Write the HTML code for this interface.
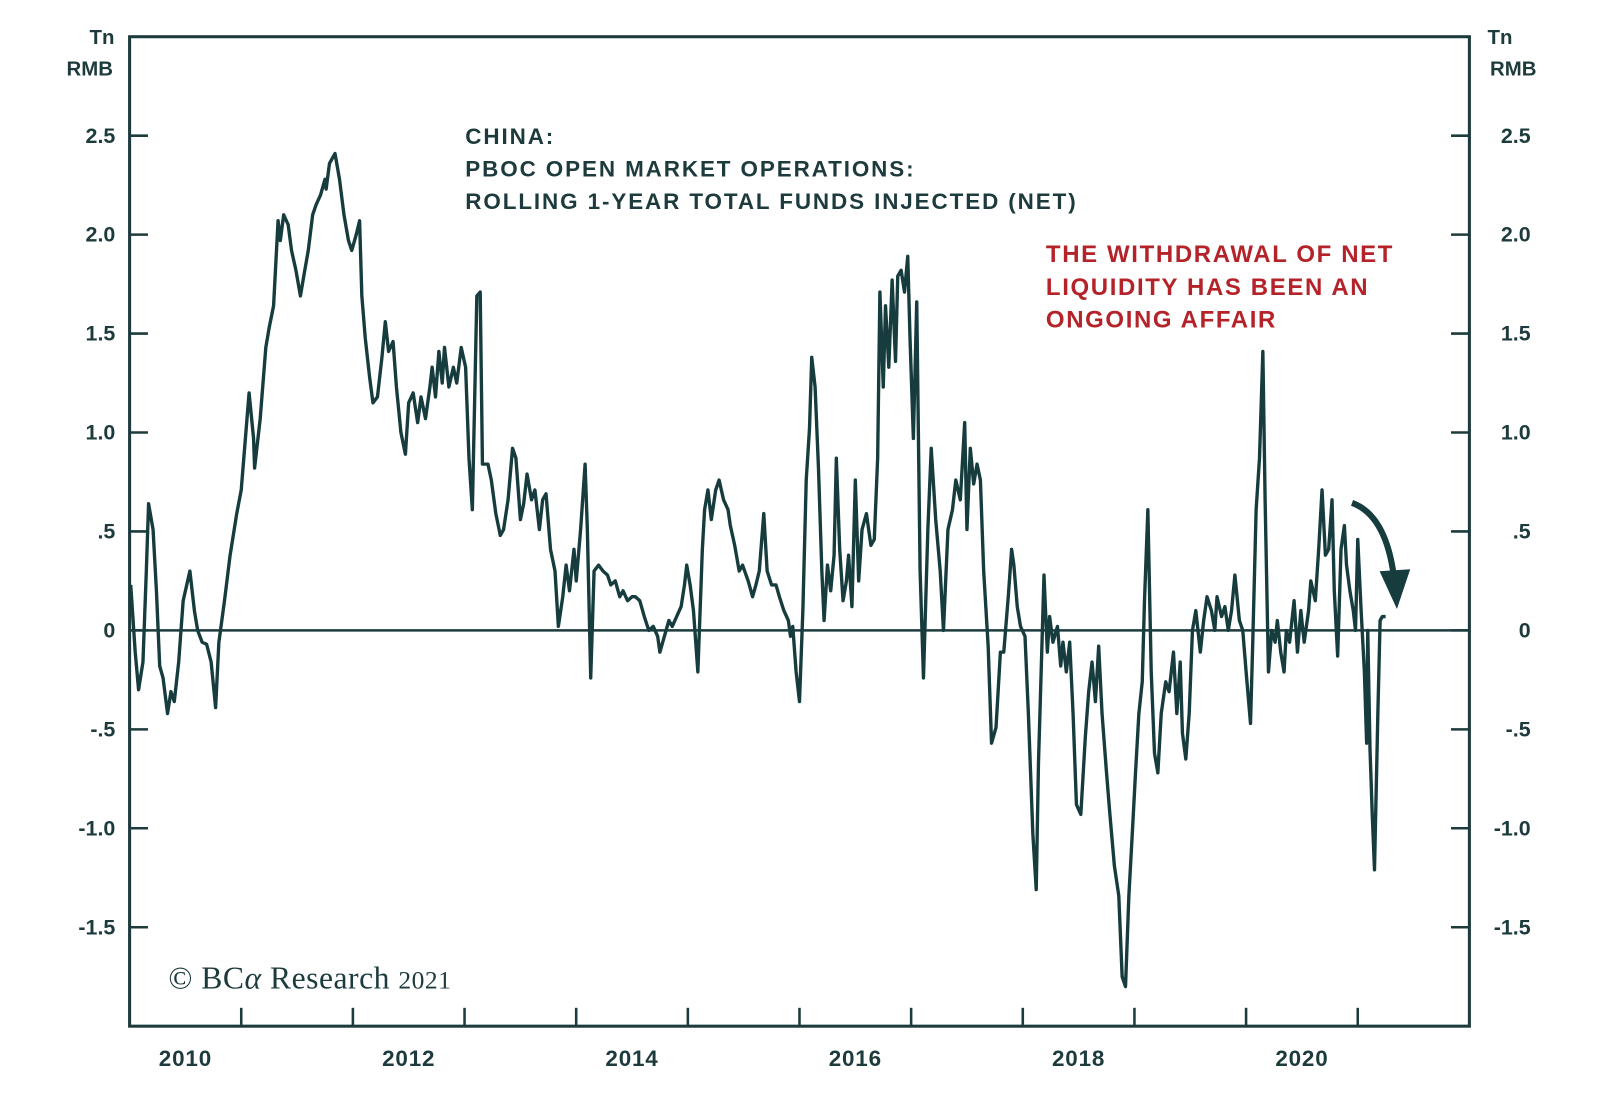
<!DOCTYPE html>
<html><head><meta charset="utf-8"><style>
html,body{margin:0;padding:0;background:#fff;}
svg{display:block;}
text{font-family:"Liberation Sans",Arial,sans-serif;}
</style></head><body>
<svg id="chart" width="1600" height="1119" viewBox="0 0 1568 1097" preserveAspectRatio="none" xmlns="http://www.w3.org/2000/svg">
<rect width="1568" height="1097" fill="#fff"/>
<g id="axes"></g>
<path id="series" fill="none" stroke="#163c3e" stroke-width="3.3" stroke-linejoin="round"/>
<text x="100" y="43" text-anchor="middle" font-size="20" font-weight="bold" fill="#1d3b3d">Tn</text>
<text x="88" y="74" text-anchor="middle" font-size="20" font-weight="bold" fill="#1d3b3d">RMB</text>
<text x="1470" y="43" text-anchor="middle" font-size="20" font-weight="bold" fill="#1d3b3d">Tn</text>
<text x="1483" y="74" text-anchor="middle" font-size="20" font-weight="bold" fill="#1d3b3d">RMB</text>
<g font-size="22" font-weight="bold" fill="#1d3b3d" letter-spacing="1.85">
<text x="456" y="141">CHINA:</text>
<text x="456" y="173">PBOC OPEN MARKET OPERATIONS:</text>
<text x="456" y="205">ROLLING 1-YEAR TOTAL FUNDS INJECTED (NET)</text>
</g>
<g font-size="23.5" font-weight="bold" fill="#b5232a" letter-spacing="1.6">
<text x="1025" y="257">THE WITHDRAWAL OF NET</text>
<text x="1025" y="289">LIQUIDITY HAS BEEN AN</text>
<text x="1025" y="321">ONGOING AFFAIR</text>
</g>
<g>
<path d="M1325,493 Q1358,505 1366,565" fill="none" stroke="#163c3e" stroke-width="6"/>
<polygon points="1352,560 1382,558 1369,597" fill="#163c3e"/>
</g>
<text x="165" y="969" style="font-family:'Liberation Serif',serif" font-size="31" letter-spacing="0.5" fill="#1d3b3d">© BC<tspan font-style="italic">α</tspan> Research <tspan font-size="25">2021</tspan></text>
</svg>
<script>
const years=[2010.01,2010.05,2010.08,2010.12,2010.15,2010.17,2010.21,2010.24,2010.27,2010.30,2010.34,2010.37,2010.40,2010.44,2010.48,2010.54,2010.58,2010.61,2010.65,2010.69,2010.73,2010.77,2010.80,2010.85,2010.90,2010.96,2011.00,
2011.03,2011.07,2011.11,2011.12,2011.17,2011.22,2011.25,2011.29,2011.33,2011.35,2011.38,2011.42,2011.45,2011.49,2011.53,2011.56,2011.60,2011.64,2011.67,2011.71,2011.75,2011.76,2011.79,2011.84,2011.88,2011.92,2011.96,2011.99,2012.03,2012.06,
2012.08,2012.11,2012.15,2012.18,2012.22,2012.26,2012.29,2012.32,2012.36,2012.39,2012.43,2012.47,2012.50,2012.54,2012.58,2012.61,2012.65,2012.69,2012.71,2012.74,2012.77,2012.80,2012.82,2012.86,2012.90,2012.93,2012.97,2013.01,2013.04,2013.07,2013.11,2013.14,2013.16,
2013.21,2013.24,2013.28,2013.32,2013.35,2013.39,2013.43,2013.46,2013.50,2013.53,2013.56,2013.60,2013.63,2013.67,2013.70,2013.73,2013.77,2013.81,2013.84,2013.88,2013.91,2013.94,2013.98,2014.00,2014.04,2014.08,2014.10,2014.13,2014.16,
2014.20,2014.24,2014.28,2014.31,2014.35,2014.39,2014.42,2014.46,2014.50,2014.53,2014.57,2014.61,2014.65,2014.69,2014.73,2014.75,2014.79,2014.83,2014.86,2014.90,2014.94,2014.97,2014.99,2015.02,2015.05,2015.09,2015.13,
2015.15,2015.18,2015.21,2015.25,2015.28,2015.32,2015.36,2015.38,2015.42,2015.46,2015.49,2015.54,2015.58,2015.61,2015.64,2015.68,2015.71,2015.75,2015.79,2015.82,2015.86,2015.90,2015.92,2015.94,2015.97,2016.00,2016.03,
2016.06,2016.09,2016.11,2016.14,2016.17,2016.20,2016.22,2016.25,2016.28,2016.31,2016.33,2016.36,2016.39,2016.42,2016.44,2016.47,2016.50,2016.53,2016.56,2016.60,2016.64,2016.67,2016.70,2016.72,2016.75,2016.77,2016.80,2016.83,2016.86,2016.88,2016.91,2016.94,2016.97,2016.99,2017.02,2017.05,
2017.08,2017.11,2017.15,2017.18,2017.22,2017.26,2017.29,2017.33,2017.37,2017.40,2017.44,2017.48,2017.50,2017.53,2017.56,2017.59,2017.62,2017.65,2017.69,2017.72,2017.76,2017.80,2017.83,2017.87,2017.90,2017.92,2017.95,2017.98,
2018.02,2018.05,2018.09,2018.12,2018.14,2018.17,2018.19,2018.22,2018.24,2018.27,2018.31,2018.34,2018.36,2018.39,2018.42,2018.45,2018.48,2018.52,2018.56,2018.59,2018.62,2018.65,2018.68,2018.71,2018.75,2018.78,2018.82,2018.86,2018.89,2018.92,2018.95,2018.98,2019.01,2019.04,2019.07,2019.09,2019.12,2019.15,2019.18,2019.21,2019.24,2019.28,2019.31,2019.35,2019.38,2019.41,2019.43,2019.46,2019.49,
2019.52,2019.55,2019.59,2019.62,2019.65,2019.69,2019.72,2019.74,2019.78,2019.81,2019.84,2019.87,2019.90,2019.94,2019.97,2020.00,2020.04,2020.06,2020.09,2020.12,2020.15,2020.17,2020.20,2020.23,2020.26,2020.28,2020.31,2020.34,2020.36,2020.39,2020.43,2020.46,2020.49,2020.52,2020.56,
2020.58,2020.62,2020.65,2020.68,2020.71,2020.74,2020.77,2020.79,2020.82,2020.85,2020.88,2020.90,2020.93,2020.96,2020.98,2021.00,2021.03,2021.06,2021.08,2021.09,2021.11,2021.13,2021.15,2021.18,2021.20,2021.22,2021.25];
const values=[0.23,-0.11,-0.30,-0.16,0.30,0.64,0.51,0.20,-0.18,-0.24,-0.42,-0.31,-0.36,-0.16,0.15,0.30,0.10,0,-0.06,-0.07,-0.16,-0.39,-0.06,0.15,0.38,0.59,0.71,
0.92,1.20,0.97,0.82,1.07,1.43,1.53,1.64,2.07,1.97,2.10,2.05,1.92,1.82,1.69,1.79,1.92,2.10,2.15,2.20,2.28,2.23,2.36,2.41,2.28,2.10,1.97,1.92,2.00,2.07,
1.69,1.48,1.28,1.15,1.18,1.38,1.56,1.41,1.46,1.23,1.00,0.89,1.15,1.20,1.05,1.18,1.07,1.23,1.33,1.18,1.41,1.25,1.43,1.23,1.33,1.25,1.43,1.33,0.87,0.61,1.69,1.71,0.84,
0.84,0.76,0.59,0.48,0.51,0.66,0.92,0.87,0.56,0.64,0.79,0.66,0.71,0.51,0.66,0.69,0.41,0.30,0.02,0.17,0.33,0.20,0.41,0.25,0.51,0.84,0.51,-0.24,0.30,
0.33,0.30,0.28,0.23,0.25,0.17,0.20,0.15,0.17,0.17,0.15,0.07,0,0.02,-0.03,-0.11,-0.03,0.05,0.02,0.07,0.12,0.23,0.33,0.23,0.10,-0.21,0.41,
0.61,0.71,0.56,0.71,0.76,0.66,0.61,0.53,0.43,0.30,0.33,0.25,0.17,0.23,0.30,0.59,0.30,0.23,0.23,0.17,0.10,0.05,-0.03,0.02,-0.21,-0.36,0.10,
0.76,1.02,1.38,1.23,0.82,0.30,0.05,0.33,0.20,0.38,0.87,0.41,0.15,0.25,0.38,0.12,0.76,0.25,0.51,0.59,0.43,0.46,0.87,1.71,1.23,1.64,1.33,1.77,1.36,1.79,1.82,1.71,1.89,1.48,0.97,1.66,
0.30,-0.24,0.51,0.92,0.56,0.30,0,0.51,0.61,0.76,0.66,1.05,0.51,0.92,0.74,0.84,0.76,0.30,-0.08,-0.57,-0.49,-0.11,-0.11,0.17,0.41,0.33,0.12,0.02,
-0.03,-0.42,-1.03,-1.31,-0.67,-0.11,0.28,-0.11,0.07,-0.06,0.02,-0.18,-0.06,-0.21,-0.06,-0.42,-0.88,-0.93,-0.54,-0.31,-0.16,-0.36,-0.08,-0.42,-0.72,-0.93,-1.19,-1.34,-1.75,-1.80,-1.34,-1.03,-0.72,-0.42,-0.26,0.15,0.61,-0.21,-0.62,-0.72,-0.42,-0.26,-0.31,-0.11,-0.42,-0.16,-0.52,-0.65,-0.42,
0,0.10,-0.11,0.05,0.17,0.10,0,0.17,0.07,0.12,0,0.10,0.28,0.05,0,-0.21,-0.47,-0.06,0.61,0.87,1.41,0.66,-0.21,0,-0.06,0.05,-0.11,-0.21,0,-0.06,0.15,-0.11,0.10,-0.06,0.10,
0.25,0.15,0.41,0.71,0.38,0.41,0.66,0.20,-0.13,0.41,0.53,0.33,0.20,0.10,0,0.46,0.10,-0.21,-0.57,0,-0.60,-0.93,-1.21,-0.42,0.05,0.07,0.07];
const yTicks=[2.5,2.0,1.5,1.0,0.5,0,-0.5,-1.0,-1.5];
const yTickLabels=["2.5","2.0","1.5","1.0",".5","0","-.5","-1.0","-1.5"];
const xTickYears=[2011,2012,2013,2014,2015,2016,2017,2018,2019,2020,2021];
const xLabelYears=[2010,2012,2014,2016,2018,2020];

const L=127,R=1440,T=36,B=1006, X0=2010,X1=2022, Y0=-2,Y1=3;
const xs=v=>L+(v-X0)/(X1-X0)*(R-L);
const ys=v=>B-(v-Y0)/(Y1-Y0)*(B-T);
const NS="http://www.w3.org/2000/svg";
const ax=document.getElementById('axes');
function mk(tag,attrs,parent){const e=document.createElementNS(NS,tag);for(const k in attrs)e.setAttribute(k,attrs[k]);(parent||ax).appendChild(e);return e;}
const C="#1d3b3d";
const frame=mk('rect',{x:L,y:T,width:R-L,height:B-T,fill:'none',stroke:C,'stroke-width':3});


const zl=mk('line',{x1:L,x2:R,y1:ys(0),y2:ys(0),stroke:C,'stroke-width':2.5});


yTicks.forEach((v,i)=>{
  const y=ys(v);
  mk('line',{x1:L,x2:L+18,y1:y,y2:y,stroke:C,'stroke-width':2.5});
  mk('line',{x1:R-18,x2:R,y1:y,y2:y,stroke:C,'stroke-width':2.5});
  const t1=mk('text',{x:113,y:y+7,'text-anchor':'end','font-size':21,'font-weight':'bold',fill:C});
  t1.textContent=yTickLabels[i];
  
  
  const t2=mk('text',{x:1500,y:y+7,'text-anchor':'end','font-size':21,'font-weight':'bold',fill:C});
  t2.textContent=yTickLabels[i];
  
  
});
xTickYears.forEach(yr=>{
  const x=xs(yr);
  mk('line',{x1:x,x2:x,y1:B,y2:B-18,stroke:C,'stroke-width':2.5});
});
xLabelYears.forEach(yr=>{
  const t=mk('text',{x:xs(yr+0.5),y:1045,'text-anchor':'middle','font-size':22,'font-weight':'bold',fill:C,'letter-spacing':0.8});
  t.textContent=String(yr);
  
  
});
let d='';
years.forEach((yr,i)=>{d+=(i?'L':'M')+xs(yr).toFixed(1)+','+ys(values[i]).toFixed(1);});
document.getElementById('series').setAttribute('d',d);
</script>
</body></html>
